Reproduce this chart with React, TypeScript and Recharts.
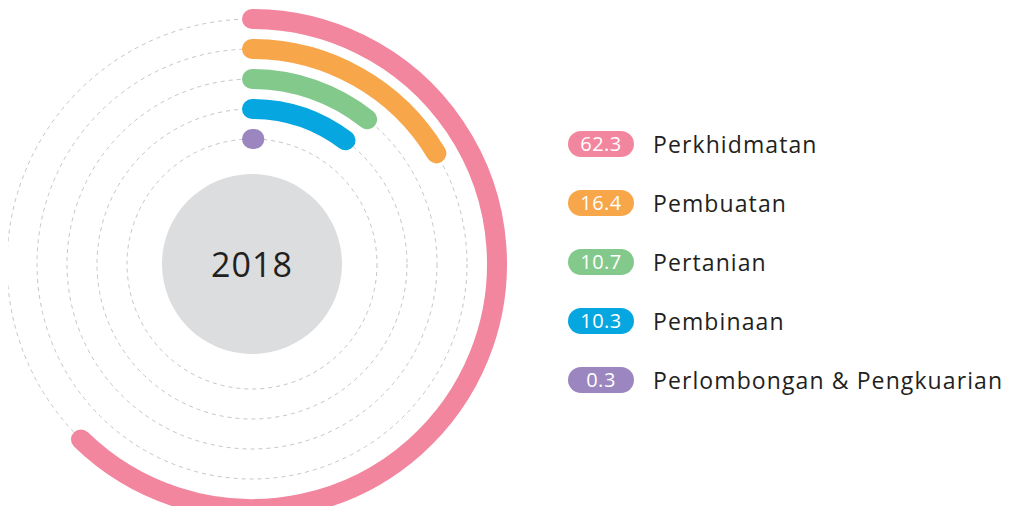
import { RadialBarChart, RadialBar, PolarAngleAxis, PolarGrid, Legend, Customized } from "recharts";

const categories = ["Perkhidmatan", "Pembuatan", "Pertanian", "Pembinaan", "Perlombongan & Pengkuarian"];
const shares = [62.3, 16.4, 10.7, 10.3, 0.3];
const colors = ["#F3869F", "#F8A64A", "#83C98B", "#06A6E0", "#9C86BF"];
const year = "2018";

const CX = 252;
const CY = 264;
const FONT = "'Open Sans', 'DejaVu Sans', sans-serif";

// innermost ring first on a radial band scale
const chartData = categories
  .map((name, i) => ({ name, value: shares[i], fill: colors[i] }))
  .reverse();

const toXY = (cx: number, cy: number, r: number, deg: number) => ({
  x: cx + r * Math.cos((deg * Math.PI) / 180),
  y: cy - r * Math.sin((deg * Math.PI) / 180),
});

const RoundArc = (props: any) => {
  const { cx, cy, innerRadius, outerRadius, startAngle, endAngle, fill } = props;
  const r = (innerRadius + outerRadius) / 2;
  const w = outerRadius - innerRadius;
  const a = toXY(cx, cy, r, startAngle);
  const b = toXY(cx, cy, r, endAngle);
  const large = Math.abs(startAngle - endAngle) > 180 ? 1 : 0;
  return (
    <path
      d={`M ${a.x} ${a.y} A ${r} ${r} 0 ${large} 1 ${b.x} ${b.y}`}
      fill="none"
      stroke={fill}
      strokeWidth={w}
      strokeLinecap="round"
    />
  );
};

const Center = () => (
  <g>
    <circle cx={CX} cy={CY} r={90} fill="#DCDDDF" />
    <text
      x={CX}
      y={CY}
      textAnchor="middle"
      dominantBaseline="central"
      fontFamily={FONT}
      fontSize={34}
      fontWeight={500}
      letterSpacing={1}
      fill="#231F20"
    >
      {year}
    </text>
  </g>
);

const LegendList = () => (
  <div style={{ fontFamily: FONT }}>
    {categories.map((name, i) => (
      <div key={name} style={{ display: "flex", alignItems: "center", height: 59 }}>
        <span
          style={{
            width: 66,
            height: 26,
            borderRadius: 13,
            background: colors[i],
            color: "#fff",
            fontSize: 20,
            fontWeight: 500,
            letterSpacing: 0.5,
            display: "flex",
            alignItems: "center",
            justifyContent: "center",
          }}
        >
          {shares[i]}
        </span>
        <span style={{ marginLeft: 19, fontSize: 23, letterSpacing: 1.1, color: "#231F20" }}>{name}</span>
      </div>
    ))}
  </div>
);

export default function App() {
  return (
    <div style={{ margin: -8, width: 1010, height: 514, background: "#fff" }}>
      <RadialBarChart
        width={1010}
        height={514}
        cx={CX}
        cy={CY}
        innerRadius={110}
        outerRadius={260}
        barSize={20}
        startAngle={90}
        endAngle={-270}
        data={chartData}
        margin={{ top: 0, right: 0, bottom: 0, left: 0 }}
      >
        <PolarGrid gridType="circle" radialLines={false} stroke="#C4C5C7" strokeDasharray="4 4" />
        <PolarAngleAxis type="number" domain={[0, 100]} tick={false} axisLine={false} />
        <Customized component={Center} />
        <RadialBar dataKey="value" shape={RoundArc} isAnimationActive={false} />
        <Legend
          layout="vertical"
          content={LegendList}
          wrapperStyle={{ left: 568, top: 114, width: 440 }}
        />
      </RadialBarChart>
    </div>
  );
}
